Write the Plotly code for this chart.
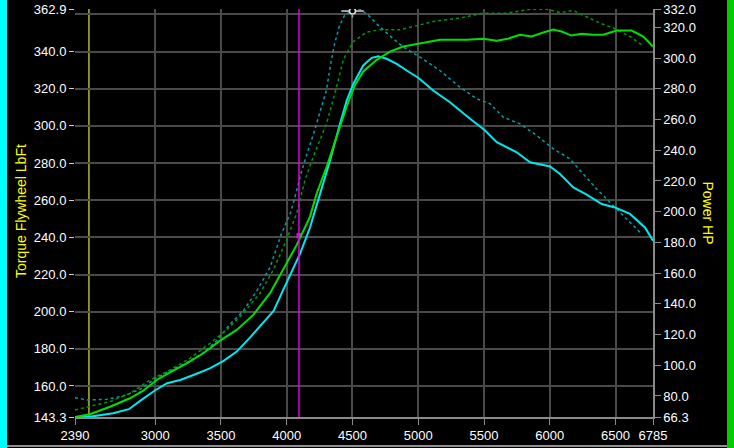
import plotly.graph_objects as go

# ---------------- data ----------------
torque_rpm = [2390, 2500, 2680, 2800, 2885, 3000, 3090, 3190, 3315, 3415, 3520, 3620, 3720, 3820,
              3900, 3975, 4050, 4100, 4177, 4253, 4329, 4405, 4456, 4506, 4582, 4646, 4696, 4760,
              4836, 4912, 5000, 5114, 5241, 5394, 5508, 5597, 5749, 5850, 6002, 6078, 6179, 6281,
              6395, 6496, 6610, 6724, 6785]
torque = [143.3, 143.4, 145.3, 147.5, 152.0, 157.7, 161.5, 163.2, 166.6, 169.5, 173.5, 178.5, 186.0,
          194.1, 200.4, 212.0, 223.8, 231.0, 245.3, 263.3, 281.3, 301.1, 313.6, 322.6, 332.5, 336.6,
          337.4, 336.1, 333.4, 329.8, 325.9, 319.0, 312.7, 303.8, 297.5, 291.2, 285.8, 280.4, 278.1,
          274.1, 266.9, 263.0, 257.9, 256.1, 252.6, 245.3, 238.2]

power_rpm = [2390, 2504, 2656, 2808, 2909, 3011, 3112, 3239, 3366, 3493, 3620, 3746, 3873, 3974,
             4076, 4177, 4228, 4304, 4380, 4456, 4519, 4582, 4684, 4785, 4886, 5038, 5165, 5368,
             5495, 5596, 5672, 5773, 5862, 5951, 6027, 6090, 6166, 6242, 6331, 6407, 6509, 6623,
             6711, 6785]
power = [66.3, 68.1, 73.0, 78.5, 83.4, 90.4, 95.4, 101.3, 107.8, 116.0, 123.0, 132.8, 146.9, 162.1,
         178.4, 196.8, 212.0, 229.4, 248.9, 268.5, 282.6, 291.3, 298.9, 304.3, 307.6, 310.2, 311.9,
         311.9, 312.6, 311.3, 312.4, 315.2, 314.1, 316.7, 318.6, 317.3, 314.7, 315.8, 315.2, 315.2,
         318.0, 318.0, 314.1, 307.6]

torque2_rpm = [2390, 2479, 2631, 2757, 2884, 3011, 3112, 3239, 3366, 3467, 3569, 3670, 3772, 3873,
               3960, 4030, 4075, 4111, 4162, 4212, 4263, 4301, 4339, 4364, 4402, 4440, 4491, 4557,
               4620, 4709, 4810, 4886, 5013, 5165, 5317, 5444, 5546, 5647, 5774, 5901, 6027, 6154,
               6255, 6357, 6458, 6585, 6699]
torque2 = [153.7, 152.5, 152.8, 154.6, 158.2, 164.5, 168.1, 172.6, 177.9, 184.3, 193.3, 200.4, 211.2,
           223.8, 242.0, 253.5, 265.0, 275.0, 286.7, 297.5, 310.0, 319.0, 335.2, 344.2, 354.1, 359.5,
           362.0, 362.8, 359.5, 353.2, 346.9, 342.4, 337.0, 329.8, 320.8, 314.6, 311.9, 304.6, 301.1,
           294.8, 287.6, 282.2, 274.1, 266.0, 258.8, 249.9, 241.8]

power2_rpm = [2390, 2504, 2656, 2808, 2960, 3112, 3264, 3416, 3543, 3670, 3797, 3898, 3999, 4076,
              4139, 4202, 4304, 4380, 4430, 4506, 4608, 4709, 4861, 4962, 5114, 5317, 5495, 5672,
              5850, 5976, 6078, 6179, 6281, 6382, 6483, 6610, 6699]
power2 = [70.9, 73.0, 76.3, 81.7, 90.4, 96.9, 104.5, 114.3, 123.0, 133.9, 146.9, 162.1, 181.7, 199.0,
          220.7, 235.9, 257.7, 281.5, 298.9, 310.8, 317.0, 318.5, 318.5, 320.6, 323.9, 326.1, 329.3,
          329.3, 331.8, 331.9, 329.7, 331.0, 327.1, 322.8, 319.6, 314.1, 308.7]

x_ticks = [2390, 3000, 3500, 4000, 4500, 5000, 5500, 6000, 6500, 6785]
x_grid = [3000, 3500, 4000, 4500, 5000, 5500, 6000, 6500]
y_left_ticks = [143.3, 160, 180, 200, 220, 240, 260, 280, 300, 320, 340, 362.9]
y_left_grid = [160, 180, 200, 220, 240, 260, 280, 300, 320, 340, 360]
y_right_ticks = [66.3, 80, 100, 120, 140, 160, 180, 200, 220, 240, 260, 280, 300, 320, 332.0]

cursor_a_rpm = 2496
cursor_b_rpm = 4093
cursor_b_torque = 240.9
peak_rpm = 4500
peak_torque = 361.8

# ---------------- layout helpers ----------------
W, H = 734, 448
L, R, T, B = 75, 81, 9, 31
PW, PH = W - L - R, H - T - B


def px(xp):
    return (xp - L) / PW


def py(yp):
    return (H - B - yp) / PH


font_family = "Liberation Sans, Arial, sans-serif"
grid_col = "#4a4a4a"
axis_col = "#8a8a8a"

fig = go.Figure()

fig.add_trace(go.Scatter(x=torque2_rpm, y=torque2, mode="lines", yaxis="y",
                         line=dict(color="#00a0a8", width=1.5, dash="dot")))
fig.add_trace(go.Scatter(x=power2_rpm, y=power2, mode="lines", yaxis="y2",
                         line=dict(color="#009a00", width=1.5, dash="dot")))
fig.add_trace(go.Scatter(x=power_rpm, y=power, mode="lines", yaxis="y2",
                         line=dict(color="#00e000", width=2)))
fig.add_trace(go.Scatter(x=torque_rpm, y=torque, mode="lines", yaxis="y",
                         line=dict(color="#00e8f0", width=2)))

# cursor marker on magenta line
fig.add_trace(go.Scatter(x=[cursor_b_rpm], y=[cursor_b_torque], mode="markers", yaxis="y",
                         marker=dict(symbol="square", size=5, color="#ff00ff")))
# peak marker (T-shaped)
fig.add_trace(go.Scatter(x=[peak_rpm], y=[peak_torque], mode="markers", yaxis="y",
                         marker=dict(symbol="line-ew", size=16,
                                     line=dict(color="#a0a0a0", width=2))))
fig.add_trace(go.Scatter(x=[peak_rpm], y=[peak_torque], mode="markers", yaxis="y",
                         marker=dict(symbol="circle", size=6, color="#000000",
                                     line=dict(color="#e0e0e0", width=1.5))))
fig.add_annotation(x=peak_rpm, y=peak_torque, xref="x", yref="y", text="", showarrow=True,
                   arrowhead=0, ax=0, ay=8, arrowwidth=1.5, arrowcolor="#a0a0a0", standoff=3)

shapes = [
    dict(type="line", xref="x", yref="paper", x0=cursor_a_rpm, x1=cursor_a_rpm, y0=0, y1=1,
         line=dict(color="#b8b828", width=1.5), layer="below"),
    dict(type="line", xref="x", yref="paper", x0=cursor_b_rpm, x1=cursor_b_rpm, y0=0, y1=1,
         line=dict(color="#e000e0", width=1.5)),
    # frame decorations
    dict(type="rect", xref="paper", yref="paper", x0=px(0), x1=px(7), y0=py(H), y1=py(0),
         line=dict(width=0), fillcolor="#00ffff"),
    dict(type="rect", xref="paper", yref="paper", x0=px(727), x1=px(W), y0=py(H), y1=py(0),
         line=dict(width=0), fillcolor="#00cc00"),
    dict(type="line", xref="paper", yref="paper", x0=px(7), x1=px(727), y0=py(446), y1=py(446),
         line=dict(color="#c0c0c0", width=1.5)),
]

fig.update_layout(
    width=W, height=H,
    margin=dict(l=L, r=R, t=T, b=B, pad=0, autoexpand=False),
    paper_bgcolor="black", plot_bgcolor="black",
    showlegend=False,
    font=dict(family=font_family, size=13, color="white"),
    shapes=shapes,
    xaxis=dict(range=[2390, 6785], tickmode="array", tickvals=x_ticks, automargin=False,
               ticktext=[str(v) for v in x_ticks], showgrid=False, zeroline=False,
               showline=True, linecolor=axis_col, linewidth=1.5,
               ticks="outside", ticklen=6, tickcolor=axis_col, tickwidth=1,
               tickfont=dict(color="white", size=13),
               minor=dict(tickvals=x_grid, showgrid=True, gridcolor=grid_col, gridwidth=1.5, ticks="")),
    yaxis=dict(range=[143.3, 362.9], tickmode="array", tickvals=y_left_ticks, automargin=False,
               ticktext=[f"{v:.1f}" for v in y_left_ticks], showgrid=False, zeroline=False,
               showline=False, ticks="outside", ticklen=5, tickcolor="#d0d0d0", tickwidth=1,
               tickfont=dict(color="white", size=13),
               minor=dict(tickvals=y_left_grid, showgrid=True, gridcolor=grid_col, gridwidth=1.5, ticks="")),
    yaxis2=dict(range=[66.3, 332.0], overlaying="y", side="right", tickmode="array", automargin=False,
                tickvals=y_right_ticks, ticktext=[f"{v:.1f}" for v in y_right_ticks],
                showgrid=False, zeroline=False, showline=True, linecolor=axis_col, linewidth=1.5,
                ticks="outside", ticklen=6, tickcolor=axis_col, tickwidth=1,
                tickfont=dict(color="white", size=13)),
)

fig.add_annotation(text="Torque Flywheel LbFt", xref="paper", yref="paper", x=px(21), y=py(211),
                   showarrow=False, textangle=-90, xanchor="center", yanchor="middle",
                   font=dict(family=font_family, size=14, color="#ffff00"))
fig.add_annotation(text="Power HP", xref="paper", yref="paper", x=px(707.5), y=py(213),
                   showarrow=False, textangle=90, xanchor="center", yanchor="middle",
                   font=dict(family=font_family, size=14, color="#ffff00"))

fig.write_html("out.html")
